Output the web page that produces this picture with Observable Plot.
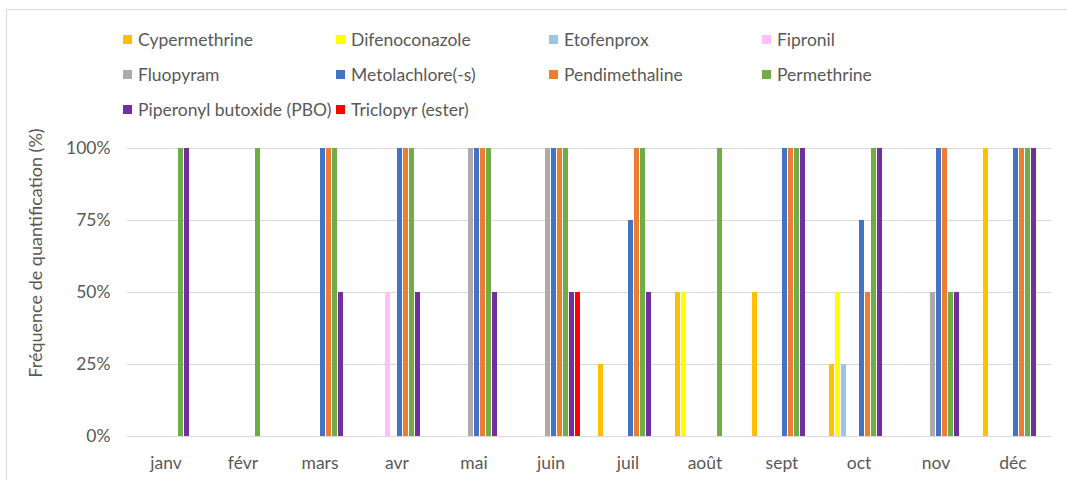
<!DOCTYPE html>
<html>
<head>
<meta charset="utf-8">
<script src="https://cdn.jsdelivr.net/npm/d3@7"></script>
<script src="https://cdn.jsdelivr.net/npm/@observablehq/plot@0.6"></script>
<style>
  html, body { margin: 0; padding: 0; background: #fff; }
  #wrap { position: relative; width: 1067px; height: 480px; overflow: hidden; font-family: Lato, "Open Sans", sans-serif; color: #595959; }
  #border { position: absolute; left: 6px; top: 9px; width: 1200px; height: 600px; border: 1px solid #d9d9d9; box-sizing: border-box; }
  #legend { position: absolute; left: 123px; top: 27px; display: grid; grid-template-columns: repeat(4, 213px); grid-auto-rows: 35px; font-size: 17.5px; }
  .item { display: flex; align-items: center; white-space: nowrap; height: 24px; }
  .sw { width: 9px; height: 9px; margin-right: 6px; flex: none; }
  #chart { position: absolute; left: 0; top: 120px; }
  #ytitle { position: absolute; left: 35px; top: 253px; transform: translate(-50%, -50%) rotate(-90deg); white-space: nowrap; font-size: 18px; line-height: 1; }
</style>
</head>
<body>
<div id="wrap">
  <div id="border"></div>
  <div id="legend"></div>
  <div id="chart"></div>
  <div id="ytitle">Fréquence de quantification (%)</div>
</div>
<script>
const months = ["janv", "févr", "mars", "avr", "mai", "juin", "juil", "août", "sept", "oct", "nov", "déc"];
const series = ["Cypermethrine", "Difenoconazole", "Etofenprox", "Fipronil", "Fluopyram", "Metolachlore(-s)", "Pendimethaline", "Permethrine", "Piperonyl butoxide (PBO)", "Triclopyr (ester)"];
const colors = ["#FFC000", "#FFFF00", "#9DC3E6", "#FFBFFF", "#AEAAAA", "#4472C4", "#ED7D31", "#70AD47", "#7030A0", "#FF0000"];
const yTicks = [0, 25, 50, 75, 100];

// values in % per month (null = not quantified)
const cypermethrine   = [null, null, null, null, null, null, 25, 50, 50, 25, null, 100];
const difenoconazole  = [null, null, null, null, null, null, null, 50, null, 50, null, null];
const etofenprox      = [null, null, null, null, null, null, null, null, null, 25, null, null];
const fipronil        = [null, null, null, 50, null, null, null, null, null, null, null, null];
const fluopyram       = [null, null, null, null, 100, 100, null, null, null, null, 50, null];
const metolachlore    = [null, null, 100, 100, 100, 100, 75, null, 100, 75, 100, 100];
const pendimethaline  = [null, null, 100, 100, 100, 100, 100, null, 100, 50, 100, 100];
const permethrine     = [100, 100, 100, 100, 100, 100, 100, 100, 100, 100, 50, 100];
const pbo             = [100, null, 50, 50, 50, 50, 50, null, 100, 100, 50, 100];
const triclopyr       = [null, null, null, null, null, 50, null, null, null, null, null, null];

const valuesBySeries = [cypermethrine, difenoconazole, etofenprox, fipronil, fluopyram, metolachlore, pendimethaline, permethrine, pbo, triclopyr];

const data = [];
series.forEach((s, i) => {
  valuesBySeries[i].forEach((v, j) => {
    if (v != null) data.push({ month: months[j], series: s, value: v });
  });
});

// legend
const legend = document.getElementById("legend");
series.forEach((s, i) => {
  const it = document.createElement("div");
  it.className = "item";
  const sw = document.createElement("span");
  sw.className = "sw";
  sw.style.background = colors[i];
  const tx = document.createElement("span");
  tx.textContent = s;
  it.appendChild(sw);
  it.appendChild(tx);
  legend.appendChild(it);
});

const W = 1067, H = 360, mL = 123, mR = 12;
const fxPad = 0.135;
const halfGap = ((W - mL - mR) / months.length) * fxPad / 2;

const chart = Plot.plot({
  width: W,
  height: H,
  marginLeft: mL,
  marginRight: mR,
  marginTop: 28,
  marginBottom: 44,
  style: { fontFamily: "Lato, 'Open Sans', sans-serif", fontSize: "17.5px", color: "#595959", background: "transparent" },
  fx: { domain: months, paddingInner: fxPad, paddingOuter: fxPad / 2, label: null },
  x: { domain: series, paddingInner: 0.22, paddingOuter: 0.1, axis: null },
  y: { domain: [0, 100], label: null },
  color: { domain: series, range: colors },
  marks: [
    Plot.ruleY(yTicks, { stroke: "#d9d9d9", strokeWidth: 1, insetLeft: -halfGap, insetRight: -halfGap }),
    Plot.barY(data, { fx: "month", x: "series", y: "value", fill: "series" }),
    Plot.axisFx({ anchor: "bottom", tickSize: 0, tickPadding: 20, label: null }),
    Plot.axisY({ ticks: yTicks, tickSize: 0, tickPadding: 22, tickFormat: d => d + "%", label: null })
  ]
});
document.getElementById("chart").appendChild(chart);
</script>
</body>
</html>
